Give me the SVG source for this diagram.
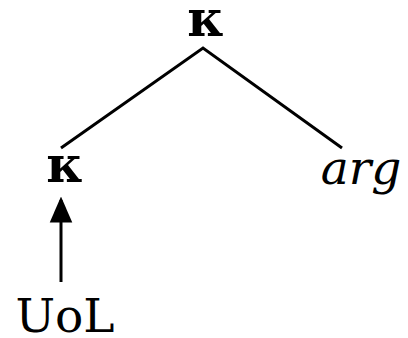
<svg xmlns="http://www.w3.org/2000/svg" width="408" height="338" viewBox="0 0 408 338">
<style>
text{font-family:"DejaVu Serif",serif;font-size:47px;fill:#000;text-anchor:middle}
.it{font-style:italic}
.k{font-weight:bold;font-size:50px}
.c{stroke:#000;stroke-width:3;fill:none}
</style>
<defs>
<marker id="ah" markerUnits="userSpaceOnUse" markerWidth="26" markerHeight="30" refX="26" refY="13" orient="auto" viewBox="0 0 30 26">
<path d="M0,0 L30,13 L0,26 Z" fill="#000"/>
</marker>
</defs>
<rect width="408" height="338" fill="#fff"/>
<g id="connectors">
<path class="c" d="M61,148 L203,48 L342,148"/>
<path class="c" d="M61,282 L61,200" marker-end="url(#ah)"/>
</g>
<g id="top"><text class="k" x="206" y="36">κ</text></g>
<g id="left"><text class="k" x="65" y="182">κ</text></g>
<g id="arg"><text class="it" x="361" y="184">arg</text></g>
<g id="uol"><text x="65" y="332">UoL</text></g>
</svg>
